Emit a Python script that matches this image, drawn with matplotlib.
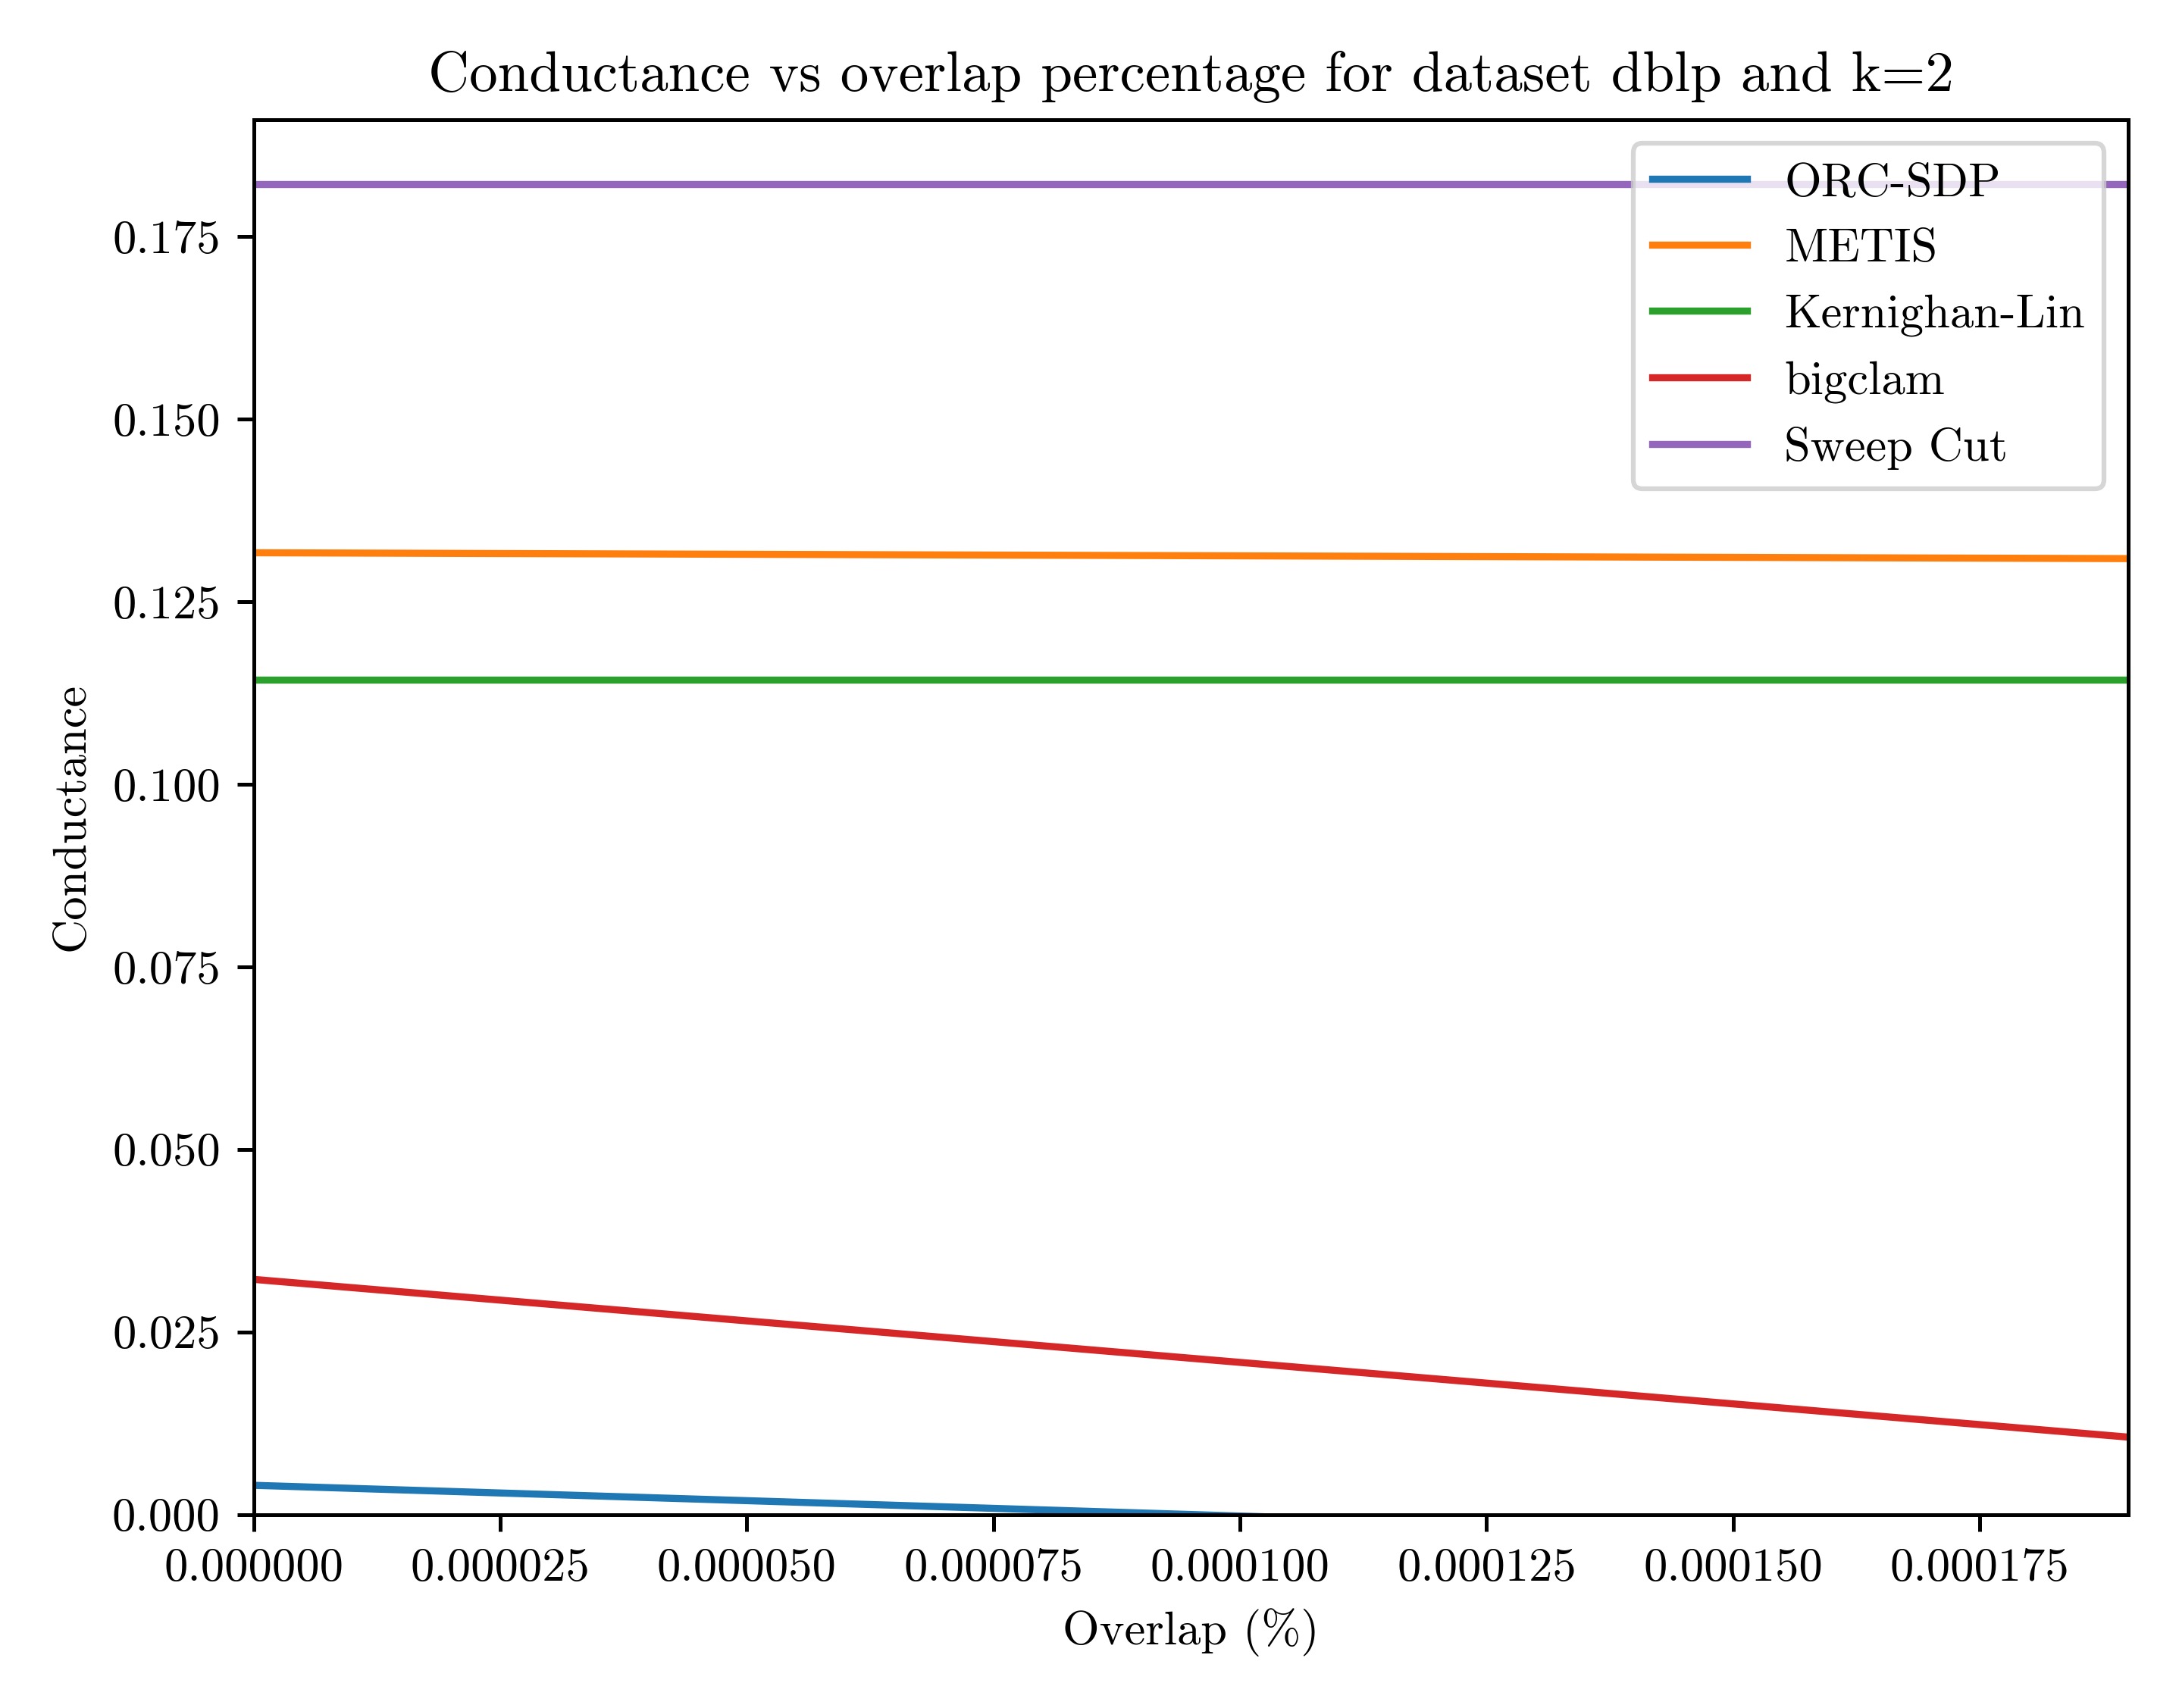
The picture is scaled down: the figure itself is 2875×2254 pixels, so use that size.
import matplotlib
matplotlib.use('Agg')
import matplotlib.pyplot as plt

plt.rcParams['font.family'] = 'serif'
plt.rcParams['font.serif'] = ['cmr10', 'DejaVu Serif']
plt.rcParams['mathtext.fontset'] = 'cm'
plt.rcParams['axes.formatter.use_mathtext'] = True

overlap = [0.0, 0.000095, 0.00019]
orc_sdp = [0.0040, 0.0, -0.0040]
metis = [0.1317, 0.1313, 0.1309]
kernighan_lin = [0.1143, 0.1143, 0.1143]
bigclam = [0.0322, 0.0214, 0.0106]
sweep_cut = [0.1822, 0.1822, 0.1822]

fig, ax = plt.subplots(figsize=(2875 / 450, 2254 / 450), dpi=450)
ax.plot(overlap, orc_sdp, label='ORC-SDP')
ax.plot(overlap, metis, label='METIS')
ax.plot(overlap, kernighan_lin, label='Kernighan-Lin')
ax.plot(overlap, bigclam, label='bigclam')
ax.plot(overlap, sweep_cut, label='Sweep Cut')

ax.set_xlim(0, 0.00019)
ax.set_ylim(0, 0.191)
ax.set_xticks([0, 0.000025, 0.00005, 0.000075, 0.0001, 0.000125, 0.00015, 0.000175])
ax.set_xticklabels(['%.6f' % v for v in ax.get_xticks()])
ax.set_yticklabels(['%.3f' % v for v in ax.get_yticks()])
ax.set_xlabel('Overlap (%)')
ax.set_ylabel('Conductance')
ax.set_title('Conductance vs overlap percentage for dataset dblp and k=2')
ax.legend(loc='upper right')

fig.tight_layout()
fig.savefig('out.png')
